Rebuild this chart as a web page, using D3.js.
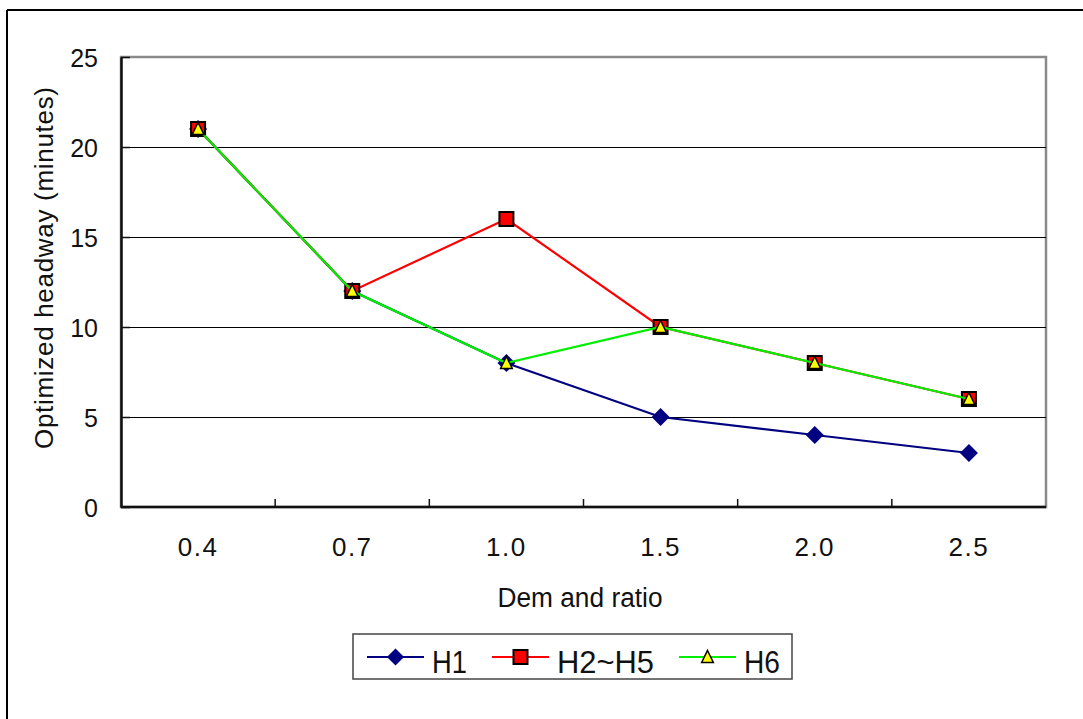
<!DOCTYPE html>
<html>
<head>
<meta charset="utf-8">
<script src="https://cdn.jsdelivr.net/npm/d3@7"></script>
<style>
  html, body { margin: 0; padding: 0; background: #fff; }
  svg text { font-family: "Liberation Sans", Arial, sans-serif; fill: #111; }
</style>
</head>
<body>
<svg id="chart" width="1083" height="719"></svg>
<script>
// Demand ratio categories and optimized headways (minutes) per route group
const categories = ["0.4", "0.7", "1.0", "1.5", "2.0", "2.5"];
const h1 = [21, 12, 8, 5, 4, 3];
const h2h5 = [21, 12, 16, 10, 8, 6];
const h6 = [21, 12, 8, 10, 8, 6];
const yTicks = [0, 5, 10, 15, 20, 25];
const seriesNames = ["H1", "H2~H5", "H6"];

const svg = d3.select("#chart");

// outer frame (top and left edges)
svg.append("line").attr("x1", 7).attr("y1", 10).attr("x2", 1083).attr("y2", 10)
  .attr("stroke", "#000").attr("stroke-width", 2);
svg.append("line").attr("x1", 7).attr("y1", 10).attr("x2", 7).attr("y2", 719)
  .attr("stroke", "#000").attr("stroke-width", 2);

const plot = { left: 121, top: 57, right: 1046, bottom: 507 };

const x = d3.scaleBand().domain(categories).range([plot.left, plot.right]);
const y = d3.scaleLinear().domain([0, 25]).range([plot.bottom, plot.top]);

// plot area border (grey top/right)
svg.append("rect")
  .attr("x", plot.left).attr("y", plot.top)
  .attr("width", plot.right - plot.left).attr("height", plot.bottom - plot.top)
  .attr("fill", "none").attr("stroke", "#8a8a8a").attr("stroke-width", 2.5);

// horizontal gridlines
svg.append("g").selectAll("line")
  .data(yTicks.filter(t => t > 0 && t < 25))
  .join("line")
  .attr("x1", plot.left).attr("x2", plot.right)
  .attr("y1", d => Math.round(y(d)) + 0.5).attr("y2", d => Math.round(y(d)) + 0.5)
  .attr("stroke", "#000").attr("stroke-width", 1);

// y axis with inward ticks
const yAxis = d3.axisLeft(y).tickValues(yTicks).tickSizeInner(-9).tickSizeOuter(0).tickPadding(23);
const gy = svg.append("g").attr("transform", `translate(${plot.left},0)`).call(yAxis);
gy.select(".domain").attr("stroke", "#111").attr("stroke-width", 2.5);
gy.selectAll(".tick line").attr("stroke", "#111").attr("stroke-width", 1.5);
gy.selectAll(".tick text").attr("font-size", 25).attr("font-family", "Liberation Sans, Arial, sans-serif")
  .attr("fill", "#111").attr("dy", "0.36em");

// x axis: ticks at category boundaries pointing up into the plot
const gx = svg.append("g").attr("transform", `translate(0,${plot.bottom})`);
gx.append("line").attr("x1", plot.left).attr("x2", plot.right).attr("y1", 0).attr("y2", 0)
  .attr("stroke", "#111").attr("stroke-width", 2.5);
gx.selectAll("line.tk")
  .data(categories.slice(1))
  .join("line").attr("class", "tk")
  .attr("x1", d => x(d)).attr("x2", d => x(d))
  .attr("y1", 0).attr("y2", -8)
  .attr("stroke", "#111").attr("stroke-width", 1.5);
gx.selectAll("text")
  .data(categories)
  .join("text")
  .attr("x", d => x(d) + x.bandwidth() / 2)
  .attr("y", 49)
  .attr("text-anchor", "middle")
  .attr("font-size", 26)
  .attr("letter-spacing", 1.5)
  .text(d => d);

// axis titles
svg.append("text")
  .attr("transform", "translate(53,268) rotate(-90)")
  .attr("text-anchor", "middle")
  .attr("font-size", 26)
  .attr("textLength", 362).attr("lengthAdjust", "spacing")
  .text("Optimized headway (minutes)");

svg.append("text")
  .attr("x", 580).attr("y", 607)
  .attr("text-anchor", "middle")
  .attr("font-size", 27)
  .attr("textLength", 165).attr("lengthAdjust", "spacingAndGlyphs")
  .text("Dem and ratio");

// series
const line = d3.line().x((d, i) => x(categories[i]) + x.bandwidth() / 2).y(d => y(d));
const series = [
  { name: seriesNames[0], values: h1, color: "#000080", marker: "diamond" },
  { name: seriesNames[1], values: h2h5, color: "#ff0000", marker: "square" },
  { name: seriesNames[2], values: h6, color: "#00ee00", marker: "triangle" }
];

function drawMarker(g, type, cx, cy, scale) {
  const s = scale || 1;
  if (type === "diamond") {
    const r = 9 * s;
    g.append("path")
      .attr("d", `M${cx},${cy - r}L${cx + r},${cy}L${cx},${cy + r}L${cx - r},${cy}Z`)
      .attr("fill", "#000080");
  } else if (type === "square") {
    const h = 7 * s;
    g.append("rect").attr("x", cx - h).attr("y", cy - h).attr("width", 2 * h).attr("height", 2 * h)
      .attr("fill", "#ff0000").attr("stroke", "#000").attr("stroke-width", 2);
  } else {
    const h = 6.5 * s;
    g.append("path")
      .attr("d", `M${cx},${cy - h}L${cx + h * 0.9},${cy + h * 0.85}L${cx - h * 0.9},${cy + h * 0.85}Z`)
      .attr("fill", "#ffff00").attr("stroke", "#000").attr("stroke-width", 1.5);
  }
}

series.forEach(s => {
  const g = svg.append("g");
  g.append("path").datum(s.values).attr("d", line)
    .attr("fill", "none").attr("stroke", s.color).attr("stroke-width", 2.2);
  s.values.forEach((v, i) => {
    drawMarker(g, s.marker, x(categories[i]) + x.bandwidth() / 2, y(v));
  });
});

// legend
const lg = svg.append("g");
lg.append("rect").attr("x", 353).attr("y", 634).attr("width", 439).attr("height", 45)
  .attr("fill", "#fff").attr("stroke", "#444").attr("stroke-width", 1.5);
const legendItems = [
  { s: series[0], x0: 367, tx: 432, tw: 35 },
  { s: series[1], x0: 492, tx: 557, tw: 97 },
  { s: series[2], x0: 679, tx: 744, tw: 36 }
];
legendItems.forEach(it => {
  lg.append("line").attr("x1", it.x0).attr("x2", it.x0 + 57).attr("y1", 657).attr("y2", 657)
    .attr("stroke", it.s.color).attr("stroke-width", 2.2);
  drawMarker(lg, it.s.marker, it.x0 + 28.5, 657, it.s.marker === "diamond" ? 0.95 : 1.0);
  lg.append("text").attr("x", it.tx).attr("y", 673)
    .attr("font-size", 31)
    .attr("textLength", it.tw).attr("lengthAdjust", "spacingAndGlyphs")
    .text(it.s.name);
});
</script>
</body>
</html>
